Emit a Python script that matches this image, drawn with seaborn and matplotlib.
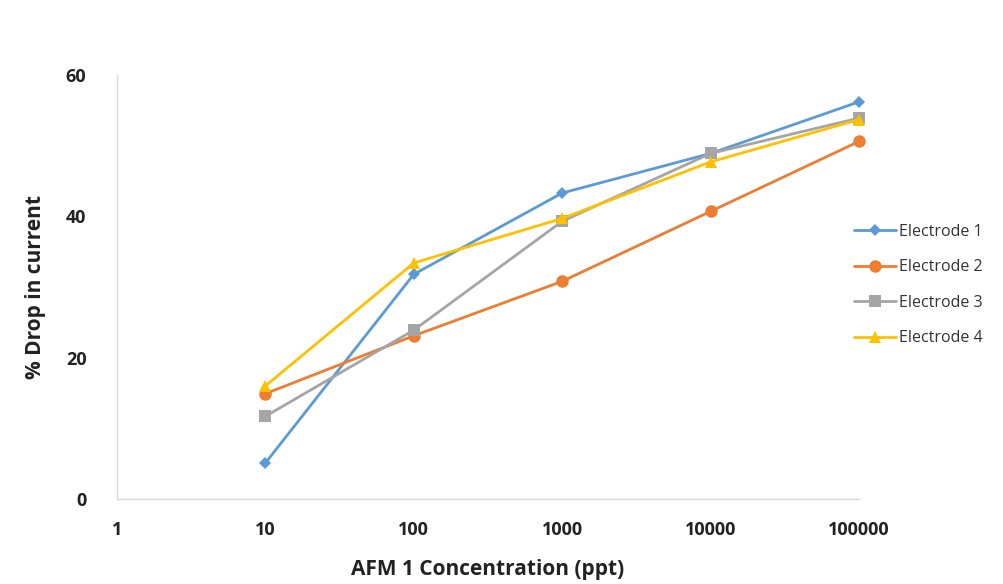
import matplotlib
matplotlib.use("Agg")
import matplotlib.pyplot as plt
import seaborn as sns
import pandas as pd
import numpy as np

concentration = [10, 100, 1000, 10000, 100000]
electrode1 = [5.1, 31.8, 43.3, 48.9, 56.2]
electrode2 = [14.9, 23.1, 30.8, 40.7, 50.6]
electrode3 = [11.7, 23.9, 39.3, 48.9, 53.9]
electrode4 = [16.0, 33.4, 39.7, 47.7, 53.7]
series_names = ["Electrode 1", "Electrode 2", "Electrode 3", "Electrode 4"]
x_ticks = [1, 10, 100, 1000, 10000, 100000]
y_ticks = [0, 20, 40, 60]

rows = []
for name, vals in zip(series_names, [electrode1, electrode2, electrode3, electrode4]):
    for c, v in zip(concentration, vals):
        rows.append({"conc": c, "drop": v, "series": name})
df = pd.DataFrame(rows)

sns.set_style("white")
plt.rcParams['font.family'] = ['Open Sans', 'DejaVu Sans']

fig = plt.figure(figsize=(10.04, 5.84), dpi=100)
ax = fig.add_axes([117/1004, 1-499/584, (859-117)/1004, (499-75)/584])

palette = {"Electrode 1": "#5B9BD5", "Electrode 2": "#ED7D31",
           "Electrode 3": "#A5A5A5", "Electrode 4": "#FFC000"}
markers = {"Electrode 1": "D", "Electrode 2": "o", "Electrode 3": "s", "Electrode 4": "^"}
sizes_m = {"Electrode 1": 6, "Electrode 2": 9, "Electrode 3": 9, "Electrode 4": 9}

for name in series_names:
    sub = df[df.series == name]
    sns.lineplot(data=sub, x="conc", y="drop", ax=ax, color=palette[name],
                 marker=markers[name], markersize=sizes_m[name], markeredgewidth=0,
                 linewidth=2, label=name, clip_on=False)

ax.set_xscale("log")
ax.set_xlim(1, 100000)
ax.set_ylim(0, 60)
ax.set_xticks(x_ticks)
ax.set_xticklabels([str(t) for t in x_ticks])
ax.set_yticks(y_ticks)
ax.set_yticklabels([str(t) for t in y_ticks])
ax.minorticks_off()
ax.tick_params(axis='both', length=0, labelsize=13, colors="#222222")
ax.tick_params(axis='x', pad=16)
ax.tick_params(axis='y', pad=22)
for lbl in ax.get_xticklabels() + ax.get_yticklabels():
    lbl.set_fontweight("bold")

for s in ["top", "right"]:
    ax.spines[s].set_visible(False)
for s in ["left", "bottom"]:
    ax.spines[s].set_color("#D9D9D9")
    ax.spines[s].set_linewidth(1)

ax.set_xlabel("AFM 1 Concentration (ppt)", fontsize=15, fontweight="bold", color="#222222", labelpad=14)
ax.set_ylabel("% Drop in current", fontsize=15, fontweight="bold", color="#222222", labelpad=14)

leg = ax.legend(loc="center left", bbox_to_anchor=(840/1004, 1-285/584),
                bbox_transform=fig.transFigure, frameon=False, fontsize=11.5,
                handlelength=2.6, labelspacing=1.22, handletextpad=0.2)
for t in leg.get_texts():
    t.set_color("#333333")

fig.savefig("out.png", dpi=100)
